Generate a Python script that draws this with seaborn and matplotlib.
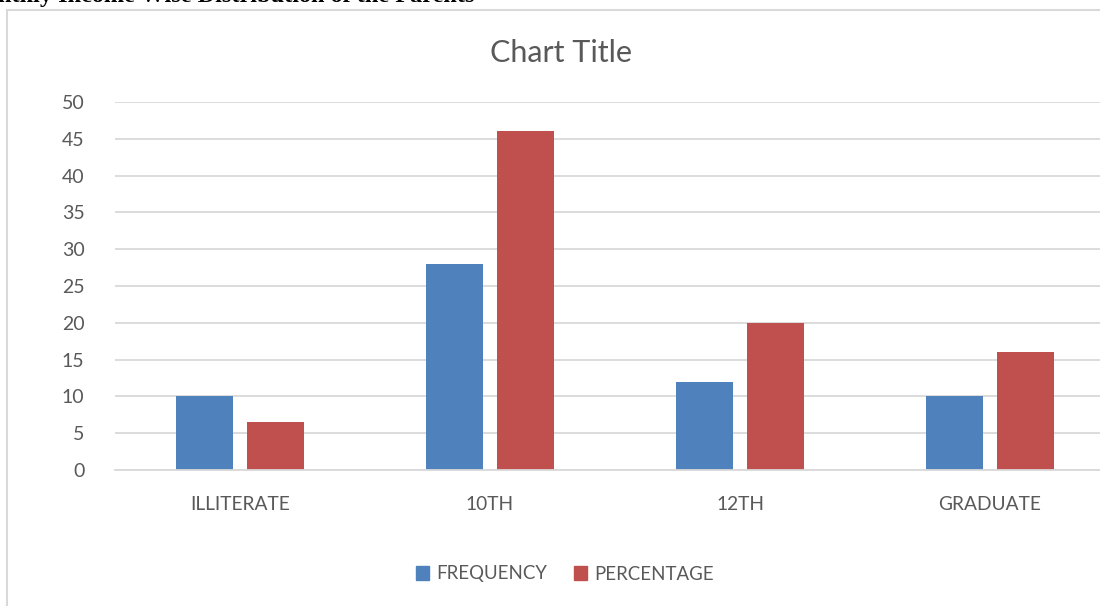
import matplotlib
matplotlib.use("Agg")
import matplotlib.pyplot as plt
from matplotlib.lines import Line2D
import seaborn as sns
import pandas as pd

# Education level of the parents: counts and percentages
categories = ["ILLITERATE", "10TH", "12TH", "GRADUATE"]
frequency = [10, 28, 12, 10]
percentage = [6.5, 46, 20, 16]
series = ["FREQUENCY", "PERCENTAGE"]
yticks = [0, 5, 10, 15, 20, 25, 30, 35, 40, 45, 50]

df = pd.DataFrame({
    "level": categories * 2,
    "value": frequency + percentage,
    "series": [series[0]] * len(categories) + [series[1]] * len(categories),
})

sns.set_theme(style="white")
plt.rcParams["font.family"] = ["Lato", "DejaVu Sans"]

TEXT = "#595959"
GRID = "#D9D9D9"
palette = {"FREQUENCY": "#4F81BD", "PERCENTAGE": "#C0504D"}

W, H = 1100, 606
fig = plt.figure(figsize=(W / 100, H / 100), dpi=100)

# outer chart frame (partially cropped)
fig.add_artist(Line2D([7 / W, 7 / W], [0, 1 - 10 / H], color=GRID, lw=1.5))
fig.add_artist(Line2D([7 / W, 1], [1 - 10 / H, 1 - 10 / H], color=GRID, lw=1.5))

# caption line above the chart
fig.text(-2 / W, 1 - 2 / H, "nthly Income Wise Distribution of the Parents",
         family=["Liberation Serif"], weight="bold", fontsize=17.5,
         color="black", ha="left", va="baseline")

ax = fig.add_axes([115 / W, 136 / H, 1000 / W, 368 / H])
sns.barplot(data=df, x="level", y="value", hue="series", order=categories,
            hue_order=series, palette=palette, width=0.568, gap=0.211,
            saturation=1, ax=ax, legend=False, edgecolor="none")

ax.set_xlim(-0.5, len(categories) - 0.5)
ax.set_ylim(0, 50)
ax.set_yticks(yticks)
ax.yaxis.grid(True, color=GRID, lw=1.3)
ax.set_axisbelow(True)
for s in ["top", "right", "left"]:
    ax.spines[s].set_visible(False)
ax.spines["bottom"].set_color(GRID)
ax.spines["bottom"].set_linewidth(1.3)
ax.tick_params(axis="y", length=0, pad=22, labelsize=14, labelcolor=TEXT)
ax.tick_params(axis="x", length=0, pad=19, labelsize=13.8, labelcolor=TEXT)
ax.set_xlabel("")
ax.set_ylabel("")

fig.text(561 / W, 1 - 53 / H, "Chart Title", fontsize=22, color=TEXT,
         ha="center", va="center")

handles = [plt.Rectangle((0, 0), 1, 1, color=palette[s]) for s in series]
fig.legend(handles, series, loc="center", bbox_to_anchor=(565 / W, 1 - 574 / H),
           ncol=2, frameon=False, fontsize=13.4, labelcolor=TEXT,
           handlelength=0.7, handleheight=0.7, handletextpad=0.4,
           columnspacing=1.4)

fig.savefig("out.png", dpi=100)
